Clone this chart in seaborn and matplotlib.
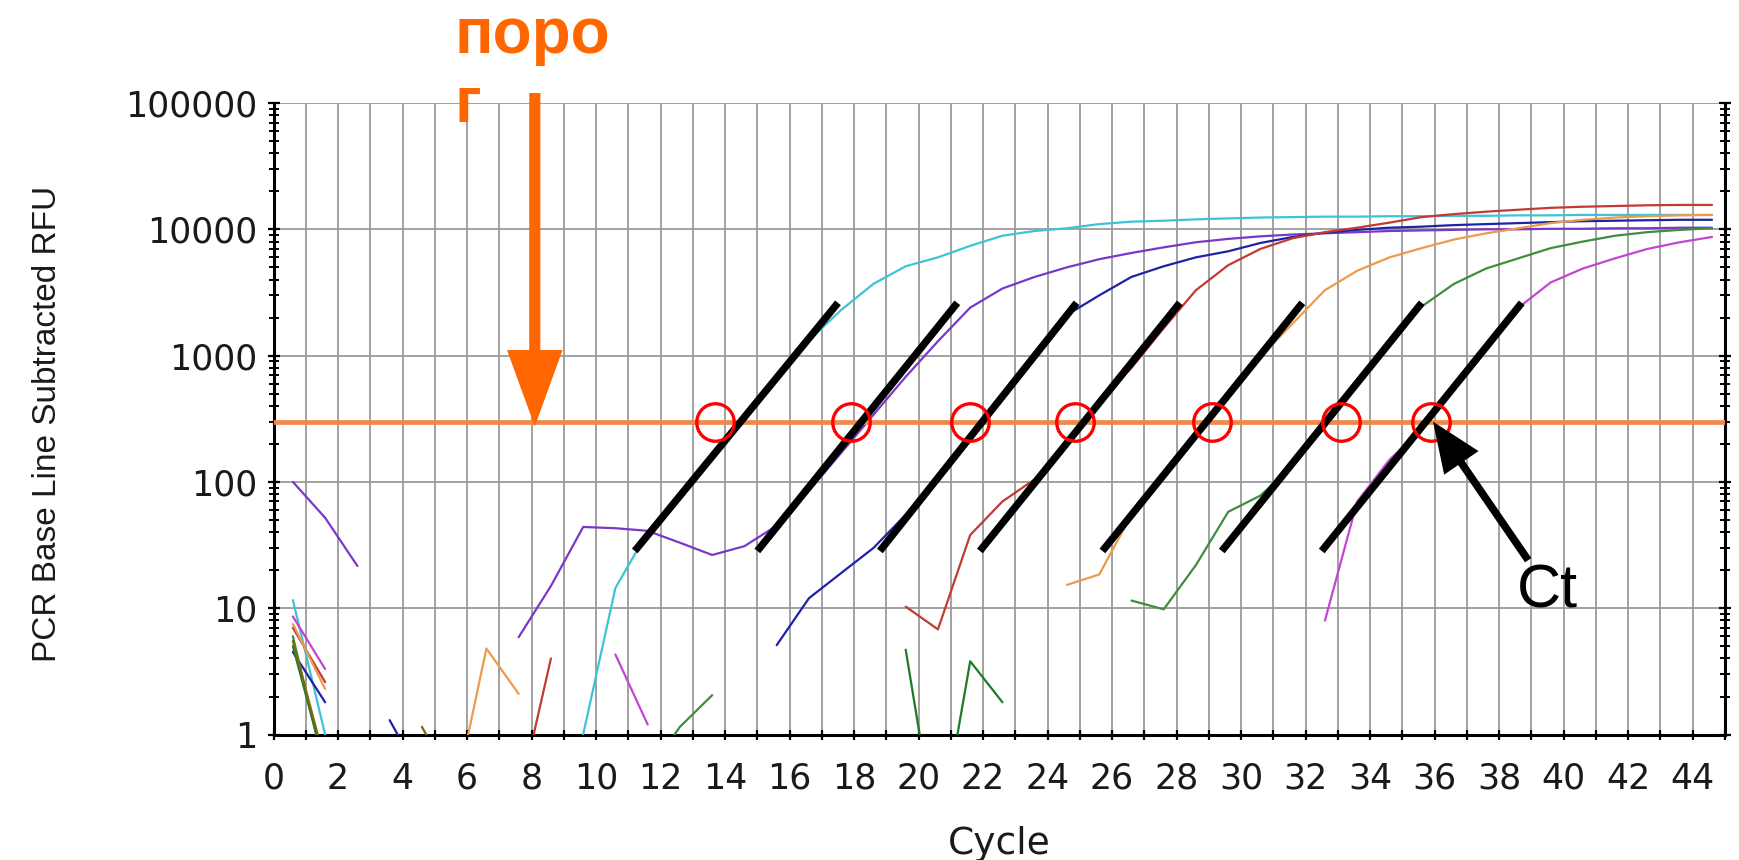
import numpy as np
import pandas as pd
import matplotlib
matplotlib.use("Agg")
import matplotlib.pyplot as plt
import seaborn as sns
from matplotlib import font_manager
from matplotlib.ticker import FixedLocator, LogLocator, NullFormatter

nan = np.nan

# Amplification cycles; the fluorescence read sits a little before each cycle mark
CYCLES = np.arange(1, 46)
READ_OFFSET = 0.4

# Baseline-subtracted RFU per cycle (nan = negative / not shown on the log axis)
cyan = [11.6, 1.0, nan, nan, nan, nan, nan, nan, nan, 1.0,
        14.5, 40, 80, 165, 330, 680, 1320, 2300, 3700, 5100,
        6000, 7400, 8900, 9700, 10200, 11000, 11500, 11700, 12000, 12200,
        12400, 12500, 12600, 12600, 12700, 12700, 12800, 12800, 12900, 12900,
        13000, 13000, 13000, 13000, 13000]
purple = [100, 52, 21.6, nan, nan, nan, nan, 5.9, 15, 44,
          43, 41, 33, 26.4, 31, 45, 85, 170, 340, 680,
          1300, 2400, 3400, 4200, 5000, 5800, 6500, 7200, 7900, 8400,
          8800, 9100, 9300, 9500, 9700, 9800, 9900, 10000, 10000, 10100,
          10100, 10200, 10200, 10300, 10300]
blue = [4.5, 1.8, nan, 1.3, 0.45, nan, nan, nan, nan, nan,
        nan, nan, nan, nan, nan, 5.1, 12, 19, 30, 55,
        110, 230, 480, 1000, 2100, 3000, 4200, 5100, 6000, 6700,
        7800, 8700, 9400, 9900, 10300, 10500, 10800, 11000, 11200, 11400,
        11600, 11700, 11800, 11900, 11900]
red = [7.0, 2.6, nan, nan, nan, nan, nan, 0.3, 4.0, nan,
       nan, nan, nan, nan, nan, nan, nan, nan, nan, 10.3,
       6.8, 38, 70, 105, 215, 440, 800, 1650, 3300, 5200,
       7000, 8500, 9500, 10300, 11300, 12500, 13200, 13800, 14300, 14800,
       15100, 15300, 15500, 15600, 15600]
orange = [7.5, 2.3, nan, nan, nan, 0.3, 4.8, 2.1, nan, nan,
          nan, nan, nan, nan, nan, nan, nan, nan, nan, nan,
          nan, nan, nan, nan, 15.3, 18.5, 55, 112, 230, 480,
          980, 1800, 3300, 4700, 6000, 7100, 8300, 9300, 10200, 11200,
          11900, 12400, 12700, 12900, 13000]
green = [6.0, 0.5, nan, nan, nan, nan, nan, nan, nan, nan,
         nan, 0.5, 1.15, 2.05, nan, nan, nan, nan, nan, nan,
         nan, nan, nan, nan, nan, nan, 11.5, 9.8, 22, 58,
         78, 135, 270, 580, 1250, 2450, 3700, 4900, 5900, 7100,
         8000, 8900, 9500, 9900, 10200]
magenta = [8.6, 3.3, nan, nan, nan, nan, nan, nan, nan, nan,
           4.3, 1.2, nan, nan, nan, nan, nan, nan, nan, nan,
           nan, nan, nan, nan, nan, nan, nan, nan, nan, nan,
           nan, nan, 8, 70, 150, 260, 560, 1200, 2400, 3800,
           4900, 5900, 7000, 7900, 8700]
ntc_green = [5.0, 0.55, nan, nan, nan, nan, nan, nan, nan, nan,
             nan, nan, nan, nan, nan, nan, nan, nan, nan, 4.7,
             0.13, 3.8, 1.8, nan, nan, nan, nan, nan, nan, nan,
             nan, nan, nan, nan, nan, nan, nan, nan, nan, nan,
             nan, nan, nan, nan, nan]
ntc_olive = [5.5, 0.6, nan, nan, 1.15, 0.4, nan, nan, nan, nan,
             nan, nan, nan, nan, nan, nan, nan, nan, nan, nan,
             nan, nan, nan, nan, nan, nan, nan, nan, nan, nan,
             nan, nan, nan, nan, nan, nan, nan, nan, nan, nan,
             nan, nan, nan, nan, nan]

WELLS = {
    "cyan": cyan, "purple": purple, "blue": blue, "red": red,
    "orange": orange, "green": green, "magenta": magenta,
    "ntc_green": ntc_green, "ntc_olive": ntc_olive,
}
PALETTE = {
    "cyan": "#3CC4D6", "purple": "#7A38C8", "blue": "#1E22A8", "red": "#C23A34",
    "orange": "#EE9A4C", "green": "#3E8E3E", "magenta": "#C444D4",
    "ntc_green": "#1F7A25", "ntc_olive": "#7A6A10",
}

THRESHOLD = 300
CT_VALUES = [13.7, 17.9, 21.6, 24.85, 29.1, 33.1, 35.9]
TANGENT_START = [11.2, 15.0, 18.8, 21.9, 25.7, 29.4, 32.5]
TANGENT_END = [17.5, 21.2, 24.9, 28.1, 31.9, 35.6, 38.7]
TANGENT_LOW, TANGENT_HIGH = 28.4, 2618

Y_TICKS = [1, 10, 100, 1000, 10000, 100000]
X_TICKS = list(range(0, 45, 2))

# ---- fonts -------------------------------------------------------------
installed = {f.name for f in font_manager.fontManager.ttflist}
narrow = "Liberation Sans Narrow" if "Liberation Sans Narrow" in installed else "Liberation Sans"

sns.set_theme(style="white")
plt.rcParams["font.family"] = ["DejaVu Sans"]

fig = plt.figure(figsize=(17.39, 8.6), dpi=100)
fig.patch.set_facecolor("white")
ax = fig.add_axes([0.1573, 0.1459, 0.8346, 0.7343])
ax.set_yscale("log")
ax.set_xlim(0, 45)
ax.set_ylim(1, 1e5)

# ---- curves: break each well into contiguous runs ----------------------
rows = []
seg = 0
for well, vals in WELLS.items():
    v = np.asarray(vals, dtype=float)
    ok = ~np.isnan(v)
    start = None
    for i in range(len(v) + 1):
        good = i < len(v) and ok[i]
        if good and start is None:
            start = i
        elif not good and start is not None:
            if i - start >= 2:
                for j in range(start, i):
                    rows.append({"pos": CYCLES[j] - READ_OFFSET, "rfu": v[j],
                                 "well": well, "seg": seg})
                seg += 1
            start = None
df = pd.DataFrame(rows)

sns.lineplot(data=df, x="pos", y="rfu", hue="well", units="seg", estimator=None,
             palette=PALETTE, legend=False, sort=False, linewidth=1.6,
             ax=ax, zorder=3)

# ---- axes styling ------------------------------------------------------
ax.set_yticks(Y_TICKS)
ax.set_yticklabels([str(t) for t in Y_TICKS])
ax.yaxis.set_minor_locator(LogLocator(base=10, subs=np.arange(2, 10)))
ax.yaxis.set_minor_formatter(NullFormatter())
ax.xaxis.set_major_locator(FixedLocator(X_TICKS))
ax.set_xticklabels([str(t) for t in X_TICKS])
ax.xaxis.set_minor_locator(FixedLocator(np.arange(1, 46, 2)))

grid_kw = dict(color="#9A9A9A", linewidth=1.3)
ax.grid(True, which="both", axis="x", **grid_kw)
ax.grid(True, which="major", axis="y", **grid_kw)
ax.set_axisbelow(True)

for side in ("left", "right", "bottom"):
    ax.spines[side].set_visible(True)
    ax.spines[side].set_color("black")
    ax.spines[side].set_linewidth(2.2)
ax.spines["top"].set_visible(False)

tick_font = 25
ax.tick_params(axis="x", which="both", direction="inout", length=7.5, width=1.6,
               color="black", bottom=True, top=False, pad=16,
               labelsize=tick_font, labelcolor="#1A1A1A")
ax.tick_params(axis="y", which="major", direction="inout", length=9, width=1.6,
               color="black", left=True, right=True, pad=7.5,
               labelsize=tick_font, labelcolor="#1A1A1A")
ax.tick_params(axis="y", which="minor", direction="inout", length=6.5, width=1.4,
               color="black", left=True, right=True)

ax.set_xlabel("Cycle", fontsize=27, color="#1A1A1A")
ax.xaxis.set_label_coords(0.5, -0.145)
ax.set_ylabel("PCR Base Line Subtracted RFU", fontsize=24, color="#1A1A1A",
              family=[narrow, "DejaVu Sans"])
ax.yaxis.set_label_coords(-0.145, 0.492)

# ---- threshold, tangents and Ct marks ----------------------------------
ax.axhline(THRESHOLD, color="#F0884A", linewidth=3.4, zorder=4)

for x0, x1 in zip(TANGENT_START, TANGENT_END):
    ax.plot([x0, x1], [TANGENT_LOW, TANGENT_HIGH], color="black", linewidth=5.3,
            solid_capstyle="butt", zorder=5)

ax.plot(CT_VALUES, [THRESHOLD] * len(CT_VALUES), linestyle="none", marker="o",
        markersize=27, markerfacecolor="none", markeredgecolor="#FF0000",
        markeredgewidth=2.4, zorder=6)

# threshold pointer
ax.annotate("", xy=(8.1, 275), xytext=(8.1, 1.2e5), xycoords="data",
            textcoords="data", annotation_clip=False,
            arrowprops=dict(arrowstyle="simple,head_length=55,head_width=40,tail_width=8",
                            mutation_scale=1, fc="#FF6600", ec="none", lw=0,
                            shrinkA=0, shrinkB=0), zorder=7)
fig.text(455 / 1739, 0.993, "поро\nг", ha="left", va="top", color="#FF6600",
         fontsize=46, fontweight="bold", linespacing=1.2,
         family=[narrow, "DejaVu Sans"])

# Ct pointer
ax.annotate("", xy=(35.95, 300), xytext=(38.9, 24.0), xycoords="data",
            textcoords="data",
            arrowprops=dict(arrowstyle="simple,head_length=36,head_width=30,tail_width=5.5",
                            mutation_scale=1, fc="black", ec="none", lw=0,
                            shrinkA=0, shrinkB=0), zorder=7)
ax.text(38.55, 10.2, "Ct", ha="left", va="baseline", fontsize=44, color="black",
        family=["Liberation Sans", "DejaVu Sans"], zorder=7)

fig.savefig("out.png", dpi=100, facecolor="white")
